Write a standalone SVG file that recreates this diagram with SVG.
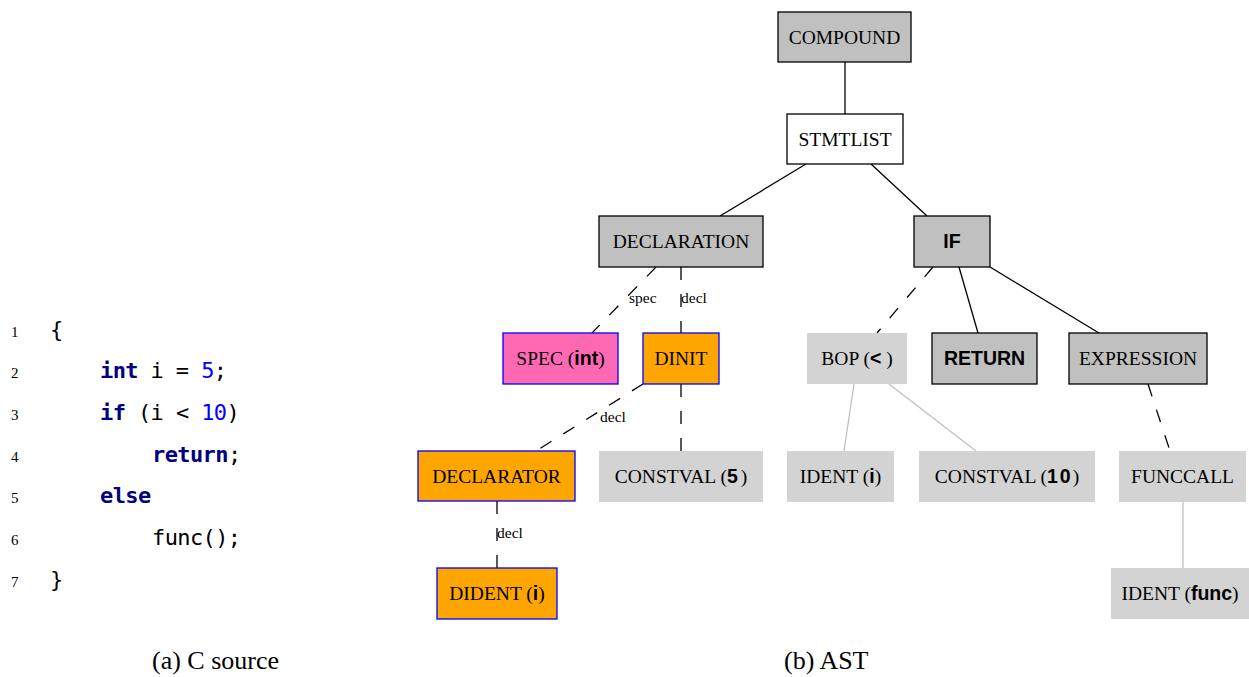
<svg xmlns="http://www.w3.org/2000/svg" width="1249" height="677" viewBox="0 0 1249 677">
  <style>
    .box { stroke: #000; stroke-width: 1.3; }
    .gray { fill: #c0c0c0; }
    .white { fill: #fff; }
    .light { fill: #d3d3d3; stroke: none; }
    .orange { fill: #ffa500; stroke: #0000ff; stroke-width: 1.3; }
    .pink { fill: #ff69b4; stroke: #0000ff; stroke-width: 1.3; }
    .lbl { font-family: "Liberation Serif", "Times New Roman", serif; font-size: 19.5px; fill: #000; text-anchor: middle; }
    .b { font-family: "Liberation Sans", Arial, sans-serif; font-weight: bold; }
    .elbl { font-family: "Liberation Serif", "Times New Roman", serif; font-size: 15.5px; fill: #000; }
    .edge { stroke: #000; stroke-width: 1.3; fill: none; }
    .dash { stroke-dasharray: 13 14; }
    .soft { stroke: #c0c0c0; stroke-width: 1.3; fill: none; }
    .code { font-family: "DejaVu Sans Mono", monospace; font-size: 22px; letter-spacing: -0.6px; fill: #000; white-space: pre; }
    .kw { fill: #000080; font-weight: bold; }
    .num { fill: #0000ff; }
    .ln { font-family: "Liberation Serif", "Times New Roman", serif; font-size: 15px; fill: #000; }
    .cap { font-family: "Liberation Serif", "Times New Roman", serif; font-size: 26px; fill: #000; }
  </style>

  <!-- source listing -->
  <g id="listing">
    <text class="ln" x="11" y="337">1</text>
    <text class="ln" x="11" y="378">2</text>
    <text class="ln" x="11" y="420">3</text>
    <text class="ln" x="11" y="462">4</text>
    <text class="ln" x="11" y="503">5</text>
    <text class="ln" x="11" y="545">6</text>
    <text class="ln" x="11" y="587">7</text>
    <text class="code" x="50" y="337">{</text>
    <text class="code" x="100" y="378"><tspan class="kw">int</tspan> i = <tspan class="num">5</tspan>;</text>
    <text class="code" x="100" y="420"><tspan class="kw">if</tspan> (i &lt; <tspan class="num">10</tspan>)</text>
    <text class="code" x="152" y="462"><tspan class="kw">return</tspan>;</text>
    <text class="code" x="100" y="503"><tspan class="kw">else</tspan></text>
    <text class="code" x="152" y="545">func();</text>
    <text class="code" x="50" y="587">}</text>
  </g>

  <!-- connectors -->
  <g id="edges">
    <line class="edge" x1="845" y1="62" x2="845" y2="114"/>
    <line class="edge" x1="806" y1="164" x2="720" y2="216"/>
    <line class="edge" x1="871" y1="164" x2="927" y2="216"/>
    <line class="edge dash" x1="656" y1="267" x2="592" y2="333"/>
    <line class="edge dash" x1="681" y1="267" x2="681" y2="333"/>
    <line class="edge dash" x1="933" y1="267" x2="877" y2="333"/>
    <line class="edge" x1="959" y1="267" x2="978" y2="333"/>
    <line class="edge" x1="990" y1="267" x2="1099" y2="333"/>
    <line class="edge dash" x1="643" y1="384" x2="536" y2="451"/>
    <line class="edge dash" x1="681" y1="384" x2="681" y2="451"/>
    <line class="edge dash" x1="497" y1="501" x2="497" y2="568"/>
    <line class="soft" x1="854" y1="384" x2="844" y2="451"/>
    <line class="soft" x1="889" y1="384" x2="976" y2="451"/>
    <line class="edge dash" x1="1148" y1="384" x2="1170" y2="451"/>
    <line class="soft" x1="1183" y1="502" x2="1183" y2="568"/>
    <text class="elbl" x="629" y="303">spec</text>
    <text class="elbl" x="681" y="303">decl</text>
    <text class="elbl" x="600" y="422">decl</text>
    <text class="elbl" x="497" y="538">decl</text>
  </g>

  <!-- nodes -->
  <g id="compound">
    <rect class="box gray" x="778" y="12" width="133" height="50"/>
    <text class="lbl" x="844.5" y="43.5">COMPOUND</text>
  </g>
  <g id="stmtlist">
    <rect class="box white" x="787" y="114" width="116" height="50"/>
    <text class="lbl" x="845" y="145.5">STMTLIST</text>
  </g>
  <g id="declaration">
    <rect class="box gray" x="599" y="216" width="164" height="51"/>
    <text class="lbl" x="681" y="248">DECLARATION</text>
  </g>
  <g id="if">
    <rect class="box gray" x="914" y="216" width="76" height="51"/>
    <text class="lbl b" x="952" y="248">IF</text>
  </g>
  <g id="spec">
    <rect class="pink" x="503" y="333" width="115" height="51"/>
    <text class="lbl" x="560.5" y="365">SPEC (<tspan class="b">int</tspan>)</text>
  </g>
  <g id="dinit">
    <rect class="orange" x="643" y="333" width="76" height="51"/>
    <text class="lbl" x="681" y="365">DINIT</text>
  </g>
  <g id="bop">
    <rect class="light" x="807" y="333" width="100" height="51"/>
    <text class="lbl" x="857" y="365">BOP (<tspan class="b">&lt;</tspan> )</text>
  </g>
  <g id="return">
    <rect class="box gray" x="932" y="333" width="105" height="51"/>
    <text class="lbl b" x="984.5" y="365">RETURN</text>
  </g>
  <g id="expression">
    <rect class="box gray" x="1069" y="333" width="138" height="51"/>
    <text class="lbl" x="1138" y="365">EXPRESSION</text>
  </g>
  <g id="declarator">
    <rect class="orange" x="418" y="451" width="157" height="50"/>
    <text class="lbl" x="496.5" y="482.5">DECLARATOR</text>
  </g>
  <g id="constval5">
    <rect class="light" x="599" y="451" width="164" height="51"/>
    <text class="lbl" x="681" y="483">CONSTVAL (<tspan class="b">5</tspan><tspan dx="3">)</tspan></text>
  </g>
  <g id="ident-i">
    <rect class="light" x="787" y="451" width="107" height="51"/>
    <text class="lbl" x="840.5" y="483">IDENT (<tspan class="b">i</tspan>)</text>
  </g>
  <g id="constval10">
    <rect class="light" x="919" y="451" width="176" height="51"/>
    <text class="lbl" x="1007" y="483">CONSTVAL (<tspan class="b" letter-spacing="2">10</tspan>)</text>
  </g>
  <g id="funccall">
    <rect class="light" x="1119" y="451" width="127" height="51"/>
    <text class="lbl" x="1182.5" y="483">FUNCCALL</text>
  </g>
  <g id="dident">
    <rect class="orange" x="437" y="568" width="120" height="51"/>
    <text class="lbl" x="497" y="600">DIDENT (<tspan class="b">i</tspan>)</text>
  </g>
  <g id="ident-func">
    <rect class="light" x="1111" y="568" width="138" height="51"/>
    <text class="lbl" x="1180" y="600">IDENT (<tspan class="b">func</tspan>)</text>
  </g>

  <!-- captions -->
  <text class="cap" x="152" y="669">(a) C source</text>
  <text class="cap" x="784" y="669">(b) AST</text>
</svg>
